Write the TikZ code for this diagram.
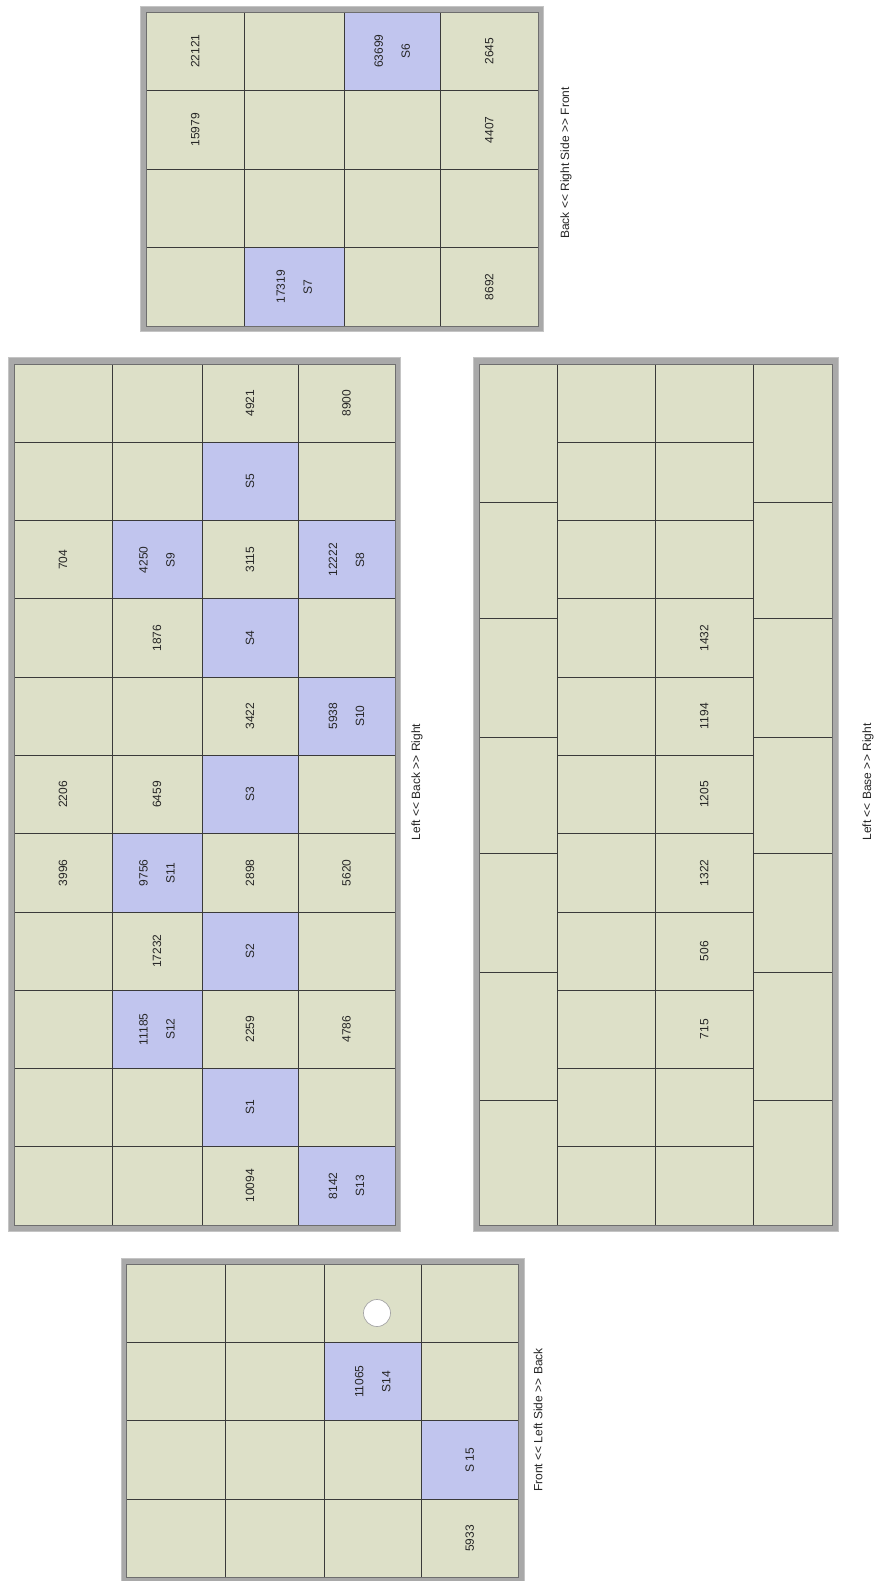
\documentclass[tikz,border=0pt]{standalone}
\usepackage{fontspec}
\setmainfont{Liberation Sans}
\definecolor{beige}{HTML}{DDE0C8}
\definecolor{bluecell}{HTML}{C1C5EE}
\definecolor{framefill}{HTML}{A9A9A9}
\definecolor{frameedge}{HTML}{C4C4C4}
\definecolor{frameinner}{HTML}{6E6E6E}
\definecolor{gridline}{HTML}{3A3A3A}
\definecolor{textcol}{HTML}{262626}
\tikzset{
  panelframe/.style={fill=framefill, draw=frameedge, line width=0.8pt},
  panelinner/.style={draw=frameinner, line width=0.9pt},
  basefill/.style={fill=beige},
  bluefill/.style={fill=bluecell},
  gridl/.style={draw=gridline, line width=0.8pt},
  celltext/.style={rotate=90, inner sep=0pt, align=center, text=textcol,
    font=\fontsize{12}{27}\selectfont},
  sidelabel/.style={rotate=90, inner sep=0pt, text=textcol,
    font=\fontsize{12}{14}\selectfont},
  hole/.style={fill=white, draw=gray!70, line width=0.7pt}
}
\newcommand\dlt{<\kern0pt<}
\newcommand\dgt{>\kern0pt>}
\begin{document}
\begin{tikzpicture}[x=1pt,y=-1pt]
\useasboundingbox (0,0) rectangle (874,1581);

% ================= Right Side panel =================
\path[panelframe] (140,6) rectangle (543.5,331.5);
\path[basefill] (146.5,12) rectangle (538.5,326);
\path[bluefill] (344.5,12) rectangle (440,90.5);
\path[bluefill] (244,247.5) rectangle (344.5,326);
\foreach \xx in {244,344.5,440} \draw[gridl] (\xx,12) -- (\xx,326);
\foreach \yy in {90.5,169,247.5} \draw[gridl] (146.5,\yy) -- (538.5,\yy);
\path[panelinner] (146.5,12) rectangle (538.5,326);
\node[celltext] (rs-a) at (195.3,51.3) {22121};
\node[celltext] (rs-b) at (392.3,51.3) {63699\\S6};
\node[celltext] (rs-c) at (489.3,51.3) {2645};
\node[celltext] (rs-d) at (195.3,129.8) {15979};
\node[celltext] (rs-e) at (489.3,129.8) {4407};
\node[celltext] (rs-f) at (294.3,286.8) {17319\\S7};
\node[celltext] (rs-g) at (489.3,286.8) {8692};
\node[sidelabel] (rs-label) at (566,163) {Back \dlt{} Right Side \dgt{} Front};

% ================= Back panel =================
\path[panelframe] (8,357.5) rectangle (400,1231.5);
\path[basefill] (14,364) rectangle (395,1225);
\path[bluefill] (202,442.27) rectangle (298,520.55);
\path[bluefill] (112,520.55) rectangle (202,598.82);
\path[bluefill] (298,520.55) rectangle (395,598.82);
\path[bluefill] (202,598.82) rectangle (298,677.09);
\path[bluefill] (298,677.09) rectangle (395,755.36);
\path[bluefill] (202,755.36) rectangle (298,833.64);
\path[bluefill] (112,833.64) rectangle (202,911.91);
\path[bluefill] (202,911.91) rectangle (298,990.18);
\path[bluefill] (112,990.18) rectangle (202,1068.45);
\path[bluefill] (202,1068.45) rectangle (298,1146.73);
\path[bluefill] (298,1146.73) rectangle (395,1225);
\foreach \xx in {112,202,298} \draw[gridl] (\xx,364) -- (\xx,1225);
\foreach \yy in {442.27,520.55,598.82,677.09,755.36,833.64,911.91,990.18,1068.45,1146.73}
  \draw[gridl] (14,\yy) -- (395,\yy);
\path[panelinner] (14,364) rectangle (395,1225);
\node[celltext] (bk-1) at (250,403.1) {4921};
\node[celltext] (bk-2) at (346.5,403.1) {8900};
\node[celltext] (bk-3) at (250,481.4) {S5};
\node[celltext] (bk-4) at (63,559.7) {704};
\node[celltext] (bk-5) at (157,559.7) {4250\\S9};
\node[celltext] (bk-6) at (250,559.7) {3115};
\node[celltext] (bk-7) at (346.5,559.7) {12222\\S8};
\node[celltext] (bk-8) at (157,638) {1876};
\node[celltext] (bk-9) at (250,638) {S4};
\node[celltext] (bk-10) at (250,716.2) {3422};
\node[celltext] (bk-11) at (346.5,716.2) {5938\\S10};
\node[celltext] (bk-12) at (63,794.5) {2206};
\node[celltext] (bk-13) at (157,794.5) {6459};
\node[celltext] (bk-14) at (250,794.5) {S3};
\node[celltext] (bk-15) at (63,872.8) {3996};
\node[celltext] (bk-16) at (157,872.8) {9756\\S11};
\node[celltext] (bk-17) at (250,872.8) {2898};
\node[celltext] (bk-18) at (346.5,872.8) {5620};
\node[celltext] (bk-19) at (157,951) {17232};
\node[celltext] (bk-20) at (250,951) {S2};
\node[celltext] (bk-21) at (157,1029.3) {11185\\S12};
\node[celltext] (bk-22) at (250,1029.3) {2259};
\node[celltext] (bk-23) at (346.5,1029.3) {4786};
\node[celltext] (bk-24) at (250,1107.6) {S1};
\node[celltext] (bk-25) at (250,1185.9) {10094};
\node[celltext] (bk-26) at (346.5,1185.9) {8142\\S13};
\node[sidelabel] (bk-label) at (417,782) {Left \dlt{} Back \dgt{} Right};

% ================= Base panel =================
\path[panelframe] (473.5,357.5) rectangle (838,1231.5);
\path[basefill] (479,364) rectangle (832,1225);
\foreach \xx in {557,655.5,753} \draw[gridl] (\xx,364) -- (\xx,1225);
\foreach \yy in {442.27,520.55,598.82,677.09,755.36,833.64,911.91,990.18,1068.45,1146.73}
  \draw[gridl] (557,\yy) -- (753,\yy);
\foreach \yy in {502,618,737,853,972,1100} {
  \draw[gridl] (479,\yy) -- (557,\yy);
  \draw[gridl] (753,\yy) -- (832,\yy);
}
\path[panelinner] (479,364) rectangle (832,1225);
\node[celltext] (bs-1) at (704.3,638) {1432};
\node[celltext] (bs-2) at (704.3,716.2) {1194};
\node[celltext] (bs-3) at (704.3,794.5) {1205};
\node[celltext] (bs-4) at (704.3,872.8) {1322};
\node[celltext] (bs-5) at (704.3,951) {506};
\node[celltext] (bs-6) at (704.3,1029.3) {715};
\node[sidelabel] (bs-label) at (868,782) {Left \dlt{} Base \dgt{} Right};

% ================= Left Side panel =================
\path[panelframe] (121,1258.5) rectangle (524,1584);
\path[basefill] (126,1264) rectangle (518.5,1577.5);
\path[bluefill] (324.5,1342.4) rectangle (421,1420.8);
\path[bluefill] (421,1420.8) rectangle (518.5,1499.2);
\foreach \xx in {225,324.5,421} \draw[gridl] (\xx,1264) -- (\xx,1577.5);
\foreach \yy in {1342.4,1420.8,1499.2} \draw[gridl] (126,\yy) -- (518.5,\yy);
\path[panelinner] (126,1264) rectangle (518.5,1577.5);
\node[hole, circle, minimum size=27pt, inner sep=0pt] (ls-hole) at (377,1313) {};
\node[celltext] (ls-1) at (372.8,1381.6) {11065\\S14};
\node[celltext] (ls-2) at (469.8,1460) {S 15};
\node[celltext] (ls-3) at (469.8,1538.4) {5933};
\node[sidelabel] (ls-label) at (538,1420) {Front \dlt{} Left Side \dgt{} Back};
\end{tikzpicture}
\end{document}
